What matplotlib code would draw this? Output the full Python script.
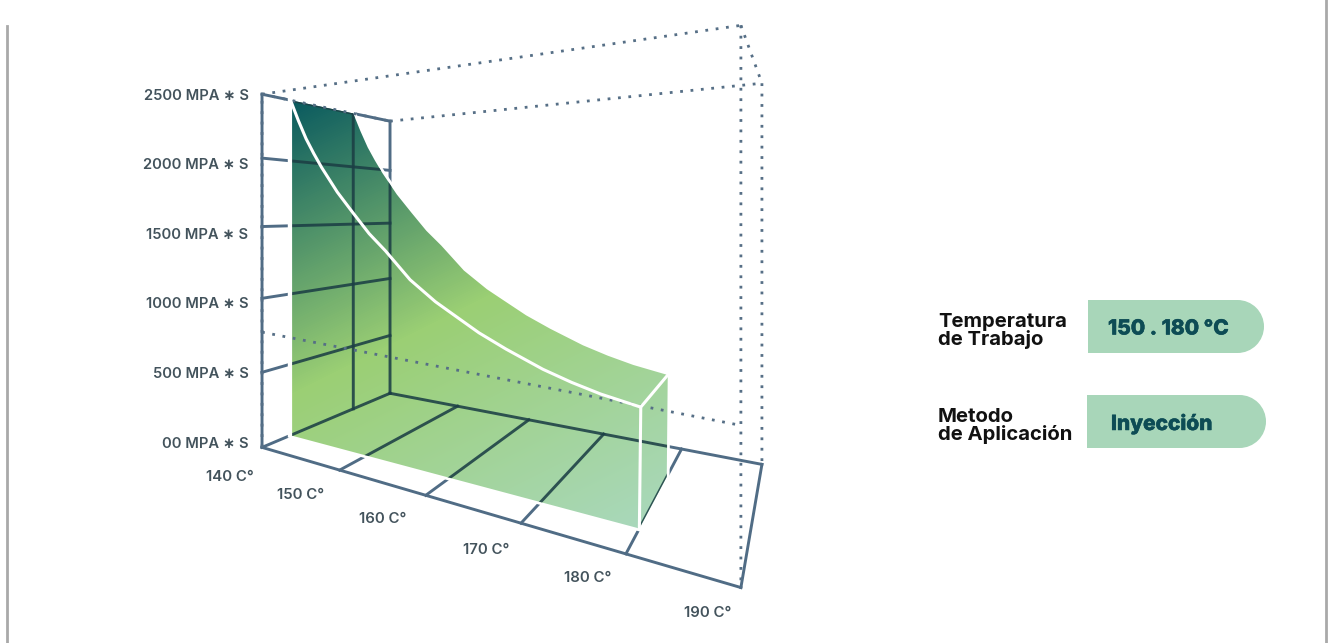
import matplotlib
matplotlib.use("Agg")
import matplotlib.pyplot as plt
from matplotlib.patches import Polygon, Circle, Rectangle
from matplotlib.colors import LinearSegmentedColormap
import matplotlib.patheffects as pe
import numpy as np

# viscosity curve
temps = [140, 141, 142, 143, 144, 146, 148, 150, 152, 155, 158, 160, 163, 166, 170, 173, 176, 180]
viscosity = [2500, 2322, 2167, 2044, 1934, 1746, 1594, 1452, 1340, 1160, 1035, 970, 876, 802, 718, 671, 634, 601]

temp_ticks = [140, 150, 160, 170, 180, 190]
temp_labels = ["140 C°", "150 C°", "160 C°", "170 C°", "180 C°", "190 C°"]
visc_ticks = [0, 500, 1000, 1500, 2000, 2500]
visc_labels = ["00 MPA ∗ S", "500 MPA ∗ S", "1000 MPA ∗ S", "1500 MPA ∗ S", "2000 MPA ∗ S", "2500 MPA ∗ S"]
guide_visc = [770, 680]

info_titles = ["Temperatura\nde Trabajo", "Metodo\nde Aplicación"]
info_values = ["150 . 180 °C", "Inyección"]

# the drawing spaces its ticks unevenly along the box
TEMP_FIT = np.polyfit(temp_ticks, [0, 0.239, 0.456, 0.657, 0.836, 1], 3)
VISC_FIT = np.polyfit(visc_ticks, [0, 0.208, 0.425, 0.624, 0.817, 1], 3)

FRAME = "#506c85"
DARK = "#1c3f45"
DOT = "#566f86"
TEXT = "#43535c"
PILL = "#a8d6b9"
TEAL = "#0d4c55"

plt.rcParams["font.family"] = ["Inter", "DejaVu Sans"]


def homography(src, dst):
    A, b = [], []
    for (u, v), (x, y) in zip(src, dst):
        A.append([u, v, 1, 0, 0, 0, -u * x, -v * x])
        A.append([0, 0, 0, u, v, 1, -u * y, -v * y])
        b += [x, y]
    return np.append(np.linalg.solve(np.array(A, float), np.array(b, float)), 1).reshape(3, 3)


unit = [(0, 0), (1, 0), (1, 1), (0, 1)]
H_floor = homography(unit, [(262, 447), (741, 587), (762, 464), (390, 393)])
H_top = homography(unit, [(262, 94), (741, 25), (762, 83), (390, 121)])


def proj(t, d, v):
    # temperature, depth 0-1, viscosity -> picture pixels
    t, d, v = np.broadcast_arrays(np.asarray(t, float), np.asarray(d, float), np.asarray(v, float))
    p = np.stack([np.polyval(TEMP_FIT, t), d, np.ones_like(d)])
    a = H_floor @ p.reshape(3, -1)
    b = H_top @ p.reshape(3, -1)
    a, b = a[:2] / a[2], b[:2] / b[2]
    f = np.polyval(VISC_FIT, v.ravel())
    return a + (b - a) * f


def seg(ax, p, q, **kw):
    xy = np.array([proj(*p), proj(*q)]).squeeze()
    return ax.plot(xy[:, 0], xy[:, 1], **kw)[0]


fig = plt.figure(figsize=(13.33, 6.43), dpi=100)
ax = fig.add_axes([0, 0, 1, 1])
ax.set_xlim(0, 1333)
ax.set_ylim(643, 0)
ax.axis("off")

# page borders
ax.plot([7.3, 7.3], [26, 643], color="#a9a9a9", lw=2)
ax.plot([1326, 1326], [0, 643], color="#a9a9a9", lw=2)

D0, D1 = 0.18, 0.655   # depth of the front and back of the sheet

# grid segments
lines = []
lines.append(((140, 0, 0), (190, 0, 0)))
lines.append(((190, 0, 0), (190, 1, 0)))
lines.append(((190, 1, 0), (140, 1, 0)))
lines.append(((140, 1, 0), (140, 0, 0)))
lines.append(((140, 0, 0), (140, 0, 2500)))
lines.append(((140, 0, 2500), (140, 1, 2500)))
lines.append(((140, 1, 2500), (140, 1, 0)))
lines.append(((140, D1, 0), (140, D1, 2500)))
for v in visc_ticks[1:-1]:
    lines.append(((140, 0, v), (140, 1, v)))
for t in temp_ticks[1:-1]:
    lines.append(((t, 0, 0), (t, 1, 0)))

for p, q in lines:
    seg(ax, p, q, color=FRAME, lw=2.1, solid_capstyle="projecting", zorder=2)

# sheet outline
front = proj(temps, D0, viscosity).T
back = proj(temps, D1, viscosity).T
base_front = proj([140, 180], D0, 0).T
base_back = proj(180, D1, 0).T
sil = np.vstack([front[0], base_front, base_back, back[::-1]])

ax.add_patch(Polygon(sil, closed=True, fc="none", ec="white", lw=4, zorder=3))

cmap = LinearSegmentedColormap.from_list("sheet", [(0, "#0a5a5f"), (0.49, "#9bcf74"), (1, "#a9d8bb")])
gx, gy = np.meshgrid(np.arange(250, 700), np.arange(90, 540))
g = ((gy - 100) + (gx - 292) * 0.5) / 600
im = ax.imshow(np.clip(g, 0, 1), cmap=cmap, vmin=0, vmax=1, extent=(250, 700, 540, 90),
               aspect="auto", zorder=4, interpolation="bilinear")
clip = Polygon(sil, closed=True, transform=ax.transData, fc="none", ec="none")
ax.add_patch(clip)
im.set_clip_path(clip)
ax.set_xlim(0, 1333)
ax.set_ylim(643, 0)

for p, q in lines:
    ln = seg(ax, p, q, color=DARK, lw=2.1, alpha=0.88, zorder=5)
    ln.set_clip_path(clip)

# dotted box edges
dots = dict(color=DOT, lw=2, linestyle=(0, (1, 2.75)), zorder=6)
seg(ax, (140, 0, 2500), (190, 0, 2500), **dots)
seg(ax, (140, 1, 2500), (190, 1, 2500), **dots)
seg(ax, (190, 0, 2500), (190, 1, 2500), **dots)
seg(ax, (190, 0, 2500), (190, 0, 0), **dots)
seg(ax, (190, 1, 2500), (190, 1, 0), **dots)
seg(ax, (140, 0, 2500), (140, 1, 2500), **dots)
seg(ax, (140, 0, 0), (140, 0, 2500), **dots)
seg(ax, (140, 0, guide_visc[0]), (190, 0, guide_visc[1]), **dots)

# white edges of the sheet
white = dict(color="white", lw=2.2, zorder=7, solid_capstyle="round", solid_joinstyle="round")
ax.plot(front[:, 0], front[:, 1], **white)
seg(ax, (140, D0, 0), (140, D0, 2500), **white)
seg(ax, (180, D0, 0), (180, D0, viscosity[-1]), **white)
seg(ax, (180, D0, viscosity[-1]), (180, D1, viscosity[-1]), **white)

# axis labels
for v, lab, y in zip(visc_ticks, visc_labels, [443.5, 374.5, 304.5, 235, 165, 96]):
    ax.text(248.5, y, lab, ha="right", va="center", fontsize=10.6, fontweight="semibold", color=TEXT)
for lab, x, y in zip(temp_labels, [230, 301, 383, 486, 588, 708], [477, 495, 519, 550, 578, 613]):
    ax.text(x, y, lab, ha="center", va="center", fontsize=10.8, fontweight="semibold", color=TEXT)

# info pills
thick = [pe.withStroke(linewidth=0.35, foreground=TEAL)]
for title, value, tx, ty, px0, px1, py0, py1, vx in zip(
        info_titles, info_values, [938, 938], [331, 426], [1088, 1087], [1264, 1266], [300, 395], [353, 448], [1108, 1111]):
    r = (py1 - py0) / 2
    ax.add_patch(Rectangle((px0, py0), px1 - r - px0, py1 - py0, fc=PILL, ec="none", zorder=2))
    ax.add_patch(Circle((px1 - r, py0 + r), r, fc=PILL, ec="none", zorder=2))
    ax.text(tx, ty, title, ha="left", va="center", fontsize=14.6, fontweight="bold", color="#111111", linespacing=0.88)
    ax.text(vx, py0 + r + 2, value, ha="left", va="center", fontsize=15, fontweight="heavy", color=TEAL, path_effects=thick)

fig.savefig("out.png", dpi=100)
